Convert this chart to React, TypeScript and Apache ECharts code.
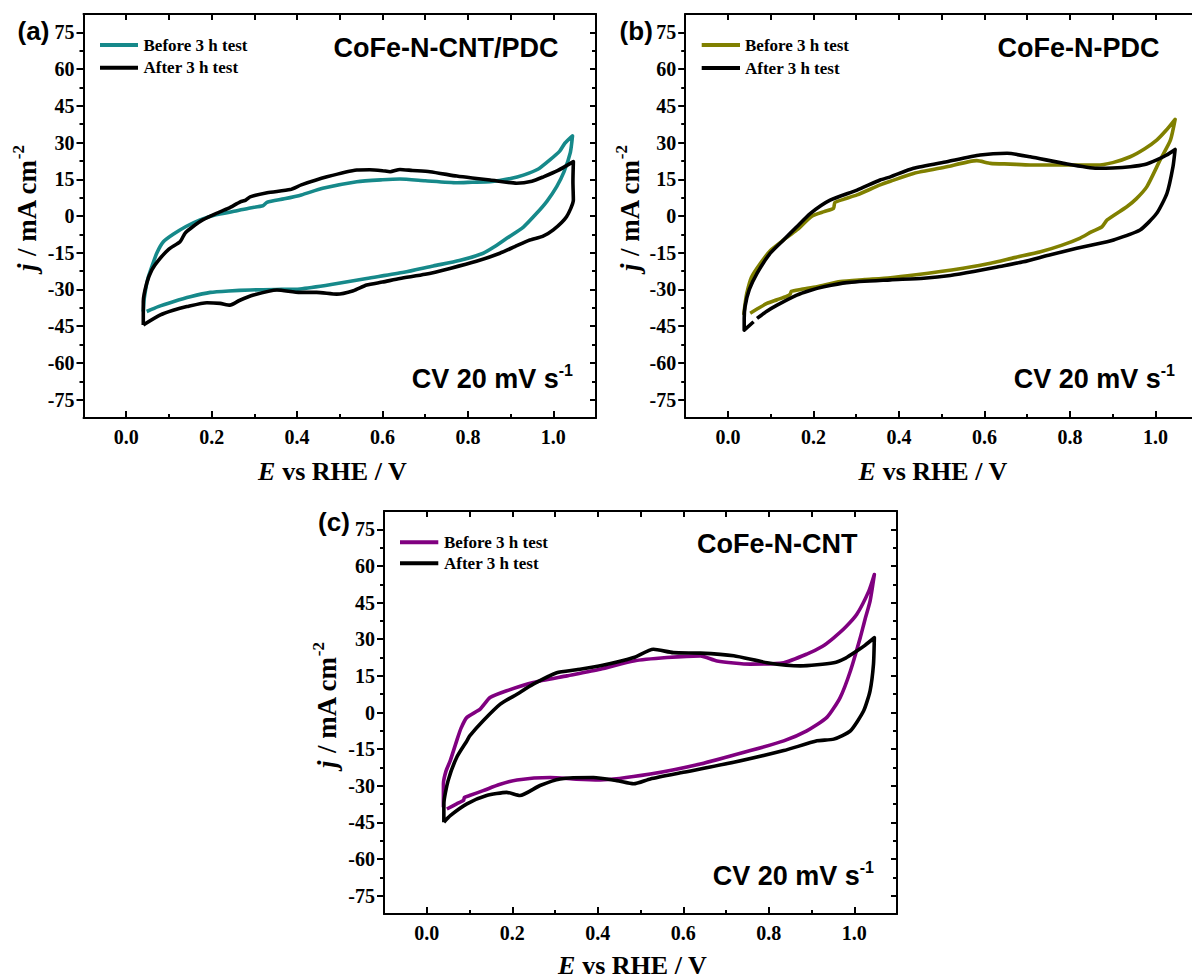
import React, { useEffect, useRef } from "react";
import * as echarts from "echarts";

// ---------- data (E vs RHE / V, j / mA cm^-2) ----------
const A_BEFORE: number[][] = [
  [0.040, -39], [0.042, -34], [0.044, -31.6], [0.05, -26], [0.06, -20.7], [0.072, -15], [0.087, -10.5],
  [0.11, -7.5], [0.14, -4.3], [0.173, -1.6], [0.21, 0.5], [0.25, 1.8], [0.29, 3.3], [0.32, 4.2], [0.33, 5.6],
  [0.37, 7], [0.41, 8.6], [0.46, 11.3], [0.54, 14], [0.60, 14.8], [0.641, 15.1], [0.70, 14.4], [0.774, 13.6],
  [0.81, 13.8], [0.852, 14], [0.90, 15.3], [0.93, 16.7], [0.965, 19.2], [0.992, 22.9], [1.015, 26.5],
  [1.027, 29.7], [1.045, 32.7],
  [1.04, 26], [1.025, 18], [1.008, 12], [0.985, 6], [0.961, 1.1], [0.93, -4.5], [0.891, -9.1], [0.86, -12.8],
  [0.836, -15.2], [0.78, -18.2], [0.719, -20.4], [0.65, -23], [0.563, -25.5], [0.48, -28], [0.407, -29.8],
  [0.35, -30], [0.29, -30.2], [0.24, -30.6], [0.197, -31.2], [0.15, -33], [0.11, -35], [0.075, -37], [0.048, -39]
];
const A_AFTER: number[][] = [
  [0.040, -44.5], [0.040, -35], [0.048, -27.5], [0.06, -22], [0.076, -18], [0.1, -13.5], [0.126, -10.5],
  [0.138, -7], [0.155, -4.5], [0.18, -1.5], [0.21, 1], [0.24, 3.2], [0.267, 5.8], [0.28, 6.5], [0.29, 7.8],
  [0.33, 9.5], [0.384, 10.8], [0.41, 12.7], [0.47, 16], [0.54, 18.8], [0.57, 18.9], [0.60, 18.5], [0.618, 18.1],
  [0.641, 19], [0.67, 18.6], [0.711, 18.1], [0.774, 16.3], [0.81, 15.5], [0.852, 14.7], [0.914, 13.4],
  [0.95, 14.2], [0.977, 16], [1.01, 18.5], [1.047, 22.2],
  [1.046, 14], [1.047, 6.5], [1.031, -0.3], [1.0, -5.7], [0.975, -8.3], [0.945, -9.8], [0.91, -12.5],
  [0.875, -15.2], [0.82, -18.5], [0.758, -21.4], [0.70, -23.8], [0.641, -25.5], [0.60, -27], [0.563, -28.2],
  [0.532, -30.5], [0.493, -31.9], [0.446, -31.2], [0.407, -31.2], [0.353, -30.2], [0.298, -32.3],
  [0.265, -34.5], [0.243, -36.4], [0.22, -35.7], [0.189, -35.4], [0.142, -37], [0.11, -38.5], [0.08, -40.4],
  [0.04, -44.5]
];
const B_BEFORE: number[][] = [
  [0.037, -40.4], [0.04, -36], [0.044, -31.6], [0.055, -25], [0.076, -19.3], [0.1, -14], [0.13, -9.8],
  [0.161, -5.7], [0.197, 0], [0.225, 1.8], [0.247, 3.1], [0.25, 5.5], [0.27, 6.8], [0.302, 8.6], [0.356, 12.7],
  [0.38, 14.2], [0.434, 17.4], [0.512, 20.1], [0.582, 22.6], [0.614, 21.5], [0.66, 21.2], [0.707, 20.8],
  [0.785, 20.8], [0.863, 20.8], [0.90, 21.8], [0.941, 24.2], [0.975, 27.5], [1.003, 31], [1.025, 35],
  [1.046, 39.5],
  [1.035, 31], [1.011, 22.9], [0.98, 12], [0.955, 7], [0.933, 3.8], [0.887, -1.6], [0.875, -4.4], [0.85, -6.5],
  [0.824, -9], [0.78, -12], [0.731, -14.6], [0.67, -17], [0.614, -19.3], [0.55, -21.3], [0.497, -22.7],
  [0.44, -24], [0.38, -25.2], [0.32, -26], [0.263, -26.8], [0.208, -28.9], [0.17, -30], [0.148, -30.8],
  [0.146, -31.8], [0.138, -32.7], [0.115, -34.2], [0.091, -35.7], [0.07, -37.8], [0.052, -39.7]
];
const B_AFTER: number[][] = [
  [0.06, -43.2], [0.038, -46.6], [0.038, -42], [0.04, -37], [0.05, -30], [0.068, -23.4], [0.099, -15.2],
  [0.13, -9.8], [0.161, -4.4], [0.193, 1.1], [0.239, 6.5], [0.302, 10.6], [0.356, 14.7], [0.38, 16],
  [0.434, 19.5], [0.512, 22.2], [0.59, 24.9], [0.653, 25.6], [0.707, 24.2], [0.785, 21.5], [0.863, 19.5],
  [0.90, 19.6], [0.941, 20.1], [0.975, 21], [1.003, 22.9], [1.025, 24.8], [1.046, 27.2],
  [1.041, 20.1], [1.027, 9.3], [1.003, 1.1], [0.964, -5.7], [0.902, -9.8], [0.887, -10.5], [0.816, -13.2],
  [0.75, -16], [0.691, -18.7], [0.63, -20.8], [0.575, -22.7], [0.52, -24.3], [0.458, -25.4], [0.38, -26.1],
  [0.278, -27.2], [0.224, -28.9], [0.19, -30.5], [0.161, -32.3], [0.115, -36.4], [0.09, -39], [0.068, -41.8]
];
const C_BEFORE: number[][] = [
  [0.039, -38.8], [0.039, -33], [0.039, -29.2], [0.045, -24], [0.055, -19.7], [0.07, -11.6], [0.08, -6.5],
  [0.094, -2], [0.125, 1.4], [0.148, 6.1], [0.187, 8.9], [0.249, 12.3], [0.328, 15], [0.406, 17.7],
  [0.484, 21.1], [0.562, 22.5], [0.64, 23.2], [0.679, 21.1], [0.757, 19.8], [0.835, 20.4], [0.889, 23.9],
  [0.925, 27], [0.952, 30.6], [0.98, 35], [1.006, 40.2], [1.034, 49.7], [1.047, 56.5],
  [1.037, 45.6], [1.025, 38], [1.014, 30.6], [0.991, 17], [0.967, 6.1], [0.936, -2], [0.889, -7.5],
  [0.835, -11.6], [0.757, -15.6], [0.64, -21.1], [0.523, -25.2], [0.406, -27.6], [0.35, -27.3],
  [0.289, -26.6], [0.211, -27.6], [0.17, -29.5], [0.132, -32], [0.1, -34], [0.088, -34.8], [0.086, -36],
  [0.07, -37.4], [0.047, -39.5]
];
const C_AFTER: number[][] = [
  [0.04, -44.9], [0.04, -37.4], [0.05, -27.9], [0.07, -18.4], [0.094, -11.6], [0.101, -9.5], [0.132, -3.4],
  [0.172, 3.4], [0.211, 7.5], [0.249, 11.6], [0.304, 16.3], [0.35, 17.5], [0.406, 19.1], [0.484, 22.5],
  [0.53, 25.9], [0.577, 24.5], [0.64, 24.3], [0.718, 23.2], [0.796, 20.4], [0.874, 19.1], [0.952, 20.4],
  [0.98, 22.3], [1.006, 25.2], [1.025, 27.5], [1.047, 30.6],
  [1.045, 19.8], [1.037, 8.9], [1.022, 0.7], [0.991, -7.5], [0.952, -10.9], [0.913, -11.6], [0.835, -15.6],
  [0.718, -20.4], [0.6, -24.5], [0.523, -27.2], [0.484, -29.2], [0.445, -27.9], [0.39, -26.6],
  [0.312, -27.2], [0.265, -29.9], [0.218, -34], [0.187, -32.7], [0.14, -34], [0.094, -37.4],
  [0.055, -42.2], [0.04, -44.9]
];

const X_MAJOR = [0, 0.2, 0.4, 0.6, 0.8, 1.0];
const X_MINOR = [0.1, 0.3, 0.5, 0.7, 0.9];
const X_TOP = [0, 0.1, 0.2, 0.3, 0.4, 0.5, 0.6, 0.7, 0.8, 0.9, 1.0];
const Y_MAJOR = [-75, -60, -45, -30, -15, 0, 15, 30, 45, 60, 75];
const Y_MINOR = [-67.5, -52.5, -37.5, -22.5, -7.5, 7.5, 22.5, 37.5, 52.5, 67.5];
const X_RANGE = [-0.1, 1.1];
const Y_RANGE = [-82.5, 82.5];

const LEGEND_BEFORE = "Before 3 h test";
const LEGEND_AFTER = "After 3 h test";
const SAMPLE_NAMES = ["CoFe-N-CNT/PDC", "CoFe-N-PDC", "CoFe-N-CNT"];
const PANEL_LABELS = ["(a)", "(b)", "(c)"];

const SERIF = '"Liberation Serif", "Times New Roman", serif';
const SANS = '"Liberation Sans", Arial, sans-serif';

const PANELS = [
  {
    grid: { left: 83.5, top: 14, width: 512.5, height: 404 },
    color: "#16898a", before: A_BEFORE, after: A_AFTER,
    label: [33.5, 31], name: [558.5, 48], cv: [573, 377.5],
    leg: { x1: 100, x2: 138, y1: 45, y2: 67.7, tx: 143.5 },
    ytitle: [25, 208], xtitle: [332.5, 471.5]
  },
  {
    grid: { left: 685.2, top: 14, width: 513, height: 404 },
    color: "#808000", before: B_BEFORE, after: B_AFTER,
    label: [636.2, 31], name: [1159.5, 48], cv: [1175, 377.5],
    leg: { x1: 701.7, x2: 740, y1: 45, y2: 68, tx: 745 },
    ytitle: [628, 208], xtitle: [933, 471.5]
  },
  {
    grid: { left: 384, top: 511, width: 513, height: 403 },
    color: "#800080", before: C_BEFORE, after: C_AFTER,
    label: [334, 521.7], name: [857.5, 544], cv: [874, 874.2],
    leg: { x1: 400, x2: 438.3, y1: 542.3, y2: 563.3, tx: 444 },
    ytitle: [325, 705], xtitle: [632.5, 965.5]
  }
];

function buildOption() {
  const grid: any[] = [];
  const xAxis: any[] = [];
  const yAxis: any[] = [];
  const series: any[] = [];
  const graphic: any[] = [];
  const black = "#000";

  PANELS.forEach((p, i) => {
    grid.push({ ...p.grid, containLabel: false, outerBoundsMode: "none" });
    const xBase = { type: "value", gridIndex: i, min: X_RANGE[0], max: X_RANGE[1], splitLine: { show: false } };
    const yBase = { type: "value", gridIndex: i, min: Y_RANGE[0], max: Y_RANGE[1], splitLine: { show: false } };
    xAxis.push({
      ...xBase, position: "bottom",
      axisLine: { show: true, onZero: false, lineStyle: { color: black, width: 2 } },
      axisTick: { show: true, inside: true, length: 7, customValues: X_MAJOR, lineStyle: { color: black, width: 2 } },
      axisLabel: {
        show: true, customValues: X_MAJOR, margin: 9, color: black, fontFamily: SERIF, fontWeight: "bold", fontSize: 20,
        formatter: (v: number) => v.toFixed(1)
      }
    });
    xAxis.push({
      ...xBase, position: "bottom",
      axisLine: { show: false, onZero: false },
      axisTick: { show: true, inside: true, length: 4, customValues: X_MINOR, lineStyle: { color: black, width: 2 } },
      axisLabel: { show: false }
    });
    xAxis.push({
      ...xBase, position: "top",
      axisLine: { show: true, onZero: false, lineStyle: { color: black, width: 2 } },
      axisTick: { show: true, inside: true, length: 6, customValues: X_TOP, lineStyle: { color: black, width: 2 } },
      axisLabel: { show: false }
    });
    yAxis.push({
      ...yBase, position: "left",
      axisLine: { show: true, onZero: false, lineStyle: { color: black, width: 2 } },
      axisTick: { show: true, inside: false, length: 7, customValues: Y_MAJOR, lineStyle: { color: black, width: 2 } },
      axisLabel: {
        show: true, customValues: Y_MAJOR, margin: 9, color: black, fontFamily: SERIF, fontWeight: "bold", fontSize: 20,
        formatter: (v: number) => String(v)
      }
    });
    yAxis.push({
      ...yBase, position: "left",
      axisLine: { show: false, onZero: false },
      axisTick: { show: true, inside: false, length: 4, customValues: Y_MINOR, lineStyle: { color: black, width: 2 } },
      axisLabel: { show: false }
    });
    yAxis.push({
      ...yBase, position: "right",
      axisLine: { show: true, onZero: false, lineStyle: { color: black, width: 2 } },
      axisTick: { show: true, inside: true, length: 6, customValues: Y_MAJOR, lineStyle: { color: black, width: 2 } },
      axisLabel: { show: false }
    });
    yAxis.push({
      ...yBase, position: "right",
      axisLine: { show: false, onZero: false },
      axisTick: { show: true, inside: true, length: 4, customValues: Y_MINOR, lineStyle: { color: black, width: 2 } },
      axisLabel: { show: false }
    });

    const xi = i * 3;
    const yi = i * 4;
    series.push({
      type: "line", name: LEGEND_BEFORE, xAxisIndex: xi, yAxisIndex: yi, data: p.before, smooth: 0.2,
      symbol: "none", showSymbol: false, lineStyle: { color: p.color, width: 3.6, join: "round" }, itemStyle: { color: p.color }, z: 2
    });
    series.push({
      type: "line", name: LEGEND_AFTER, xAxisIndex: xi, yAxisIndex: yi, data: p.after, smooth: 0.2,
      symbol: "none", showSymbol: false, lineStyle: { color: black, width: 3.6, join: "round" }, itemStyle: { color: black }, z: 3
    });

    graphic.push({
      type: "text", x: p.label[0], y: p.label[1],
      style: { text: PANEL_LABELS[i], fill: black, fontFamily: SANS, fontWeight: "bold", fontSize: 26, align: "center", verticalAlign: "middle" }
    });
    graphic.push({
      type: "text", x: p.name[0], y: p.name[1],
      style: { text: SAMPLE_NAMES[i], fill: black, fontFamily: SANS, fontWeight: "bold", fontSize: 27, align: "right", verticalAlign: "middle" }
    });
    graphic.push({
      type: "text", x: p.cv[0], y: p.cv[1],
      style: {
        text: "{n|CV 20 mV s}{s|-1}", align: "right", verticalAlign: "middle", fill: black,
        rich: {
          n: { fontFamily: SANS, fontWeight: "bold", fontSize: 27, fill: black, verticalAlign: "bottom", lineHeight: 30 },
          s: { fontFamily: SANS, fontWeight: "bold", fontSize: 16, fill: black, verticalAlign: "top", lineHeight: 16 }
        }
      }
    });
    graphic.push({
      type: "line", shape: { x1: p.leg.x1, y1: p.leg.y1, x2: p.leg.x2, y2: p.leg.y1 },
      style: { stroke: p.color, lineWidth: 4 }
    });
    graphic.push({
      type: "line", shape: { x1: p.leg.x1, y1: p.leg.y2, x2: p.leg.x2, y2: p.leg.y2 },
      style: { stroke: black, lineWidth: 4 }
    });
    graphic.push({
      type: "text", x: p.leg.tx, y: p.leg.y1,
      style: { text: LEGEND_BEFORE, fill: black, fontFamily: SERIF, fontWeight: "bold", fontSize: 17, align: "left", verticalAlign: "middle" }
    });
    graphic.push({
      type: "text", x: p.leg.tx, y: p.leg.y2,
      style: { text: LEGEND_AFTER, fill: black, fontFamily: SERIF, fontWeight: "bold", fontSize: 17, align: "left", verticalAlign: "middle" }
    });
    graphic.push({
      type: "text", x: p.ytitle[0], y: p.ytitle[1], rotation: Math.PI / 2,
      style: {
        text: "{i|j}{n| / mA cm}{s|-2}", align: "center", verticalAlign: "middle", fill: black,
        rich: {
          i: { fontFamily: SERIF, fontWeight: "bold", fontStyle: "italic", fontSize: 27, fill: black, verticalAlign: "bottom", lineHeight: 31 },
          n: { fontFamily: SERIF, fontWeight: "bold", fontSize: 27, fill: black, verticalAlign: "bottom", lineHeight: 31 },
          s: { fontFamily: SERIF, fontWeight: "bold", fontSize: 17, fill: black, verticalAlign: "top", lineHeight: 17 }
        }
      }
    });
    graphic.push({
      type: "text", x: p.xtitle[0], y: p.xtitle[1],
      style: {
        text: "{i|E}{n| vs RHE / V}", align: "center", verticalAlign: "middle", fill: black,
        rich: {
          i: { fontFamily: SERIF, fontWeight: "bold", fontStyle: "italic", fontSize: 26, fill: black },
          n: { fontFamily: SERIF, fontWeight: "bold", fontSize: 26, fill: black }
        }
      }
    });
  });

  return {
    animation: false,
    backgroundColor: "#fff",
    grid, xAxis, yAxis, series, graphic
  };
}

export default function App() {
  const ref = useRef<HTMLDivElement>(null);
  useEffect(() => {
    if (!ref.current) return;
    const chart = echarts.init(ref.current, null, { renderer: "svg" });
    chart.setOption(buildOption() as any);
    return () => chart.dispose();
  }, []);
  return (
    <div
      ref={ref}
      style={{ position: "absolute", left: 0, top: 0, width: 1192, height: 980, background: "#fff" }}
    />
  );
}
